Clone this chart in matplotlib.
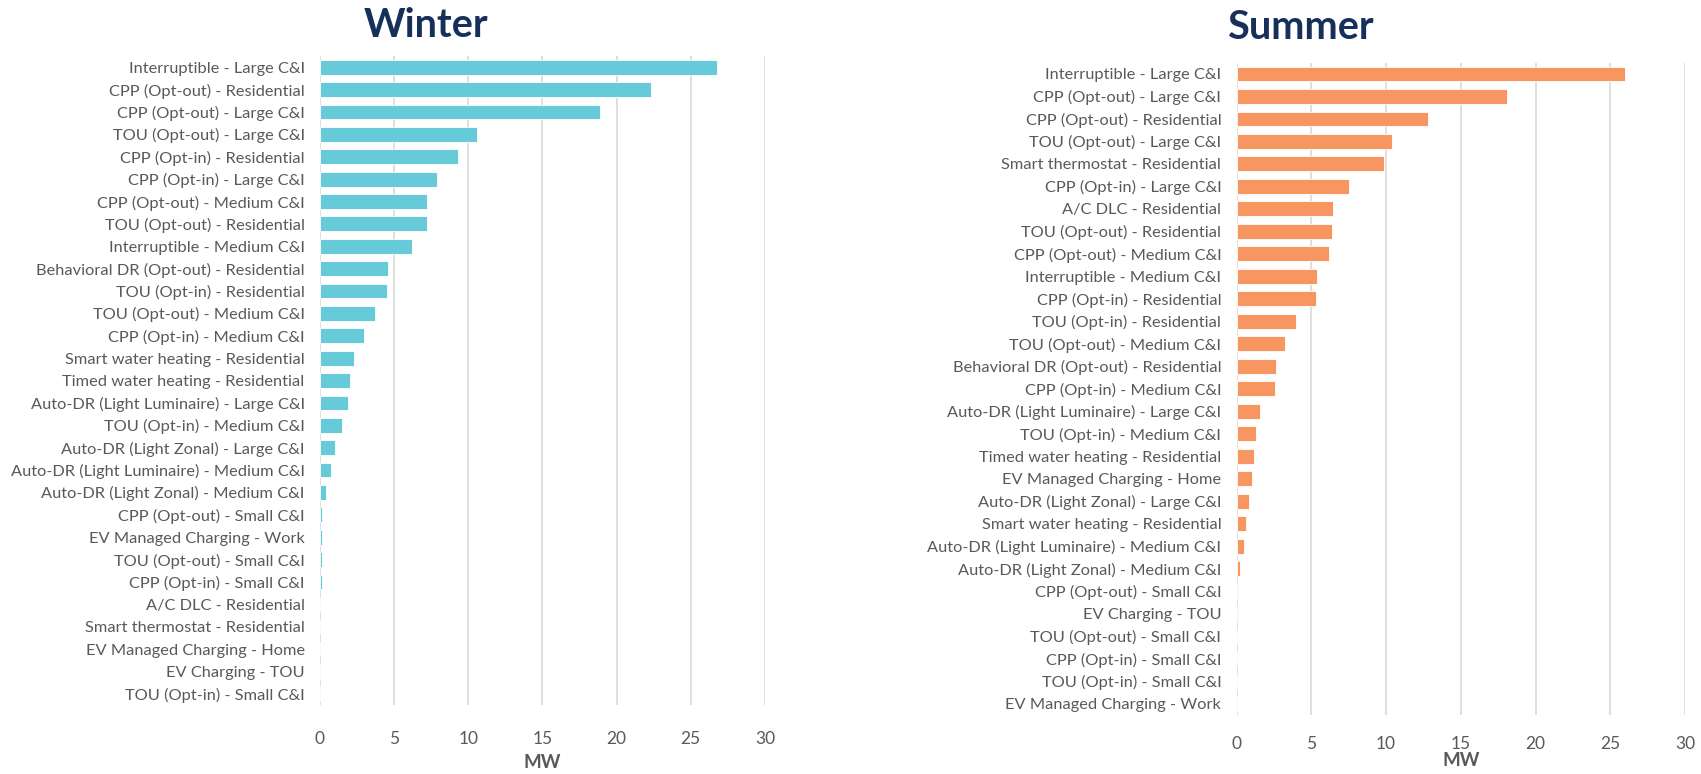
import matplotlib
matplotlib.use('Agg')
import matplotlib.pyplot as plt

# Winter - MW by program, top to bottom
winter_labels = [
    'Interruptible - Large C&I', 'CPP (Opt-out) - Residential', 'CPP (Opt-out) - Large C&I',
    'TOU (Opt-out) - Large C&I', 'CPP (Opt-in) - Residential', 'CPP (Opt-in) - Large C&I',
    'CPP (Opt-out) - Medium C&I', 'TOU (Opt-out) - Residential', 'Interruptible - Medium C&I',
    'Behavioral DR (Opt-out) - Residential', 'TOU (Opt-in) - Residential', 'TOU (Opt-out) - Medium C&I',
    'CPP (Opt-in) - Medium C&I', 'Smart water heating - Residential', 'Timed water heating - Residential',
    'Auto-DR (Light Luminaire) - Large C&I', 'TOU (Opt-in) - Medium C&I', 'Auto-DR (Light Zonal) - Large C&I',
    'Auto-DR (Light Luminaire) - Medium C&I', 'Auto-DR (Light Zonal) - Medium C&I', 'CPP (Opt-out) - Small C&I',
    'EV Managed Charging - Work', 'TOU (Opt-out) - Small C&I', 'CPP (Opt-in) - Small C&I',
    'A/C DLC - Residential', 'Smart thermostat - Residential', 'EV Managed Charging - Home',
    'EV Charging - TOU', 'TOU (Opt-in) - Small C&I']
winter_mw = [26.8, 22.3, 18.9, 10.6, 9.3, 7.9, 7.2, 7.2, 6.2, 4.6, 4.5, 3.7, 3.0, 2.3, 2.05,
             1.9, 1.5, 1.0, 0.76, 0.43, 0.17, 0.17, 0.11, 0.11, 0, 0, 0, 0, 0]

# Summer
summer_labels = [
    'Interruptible - Large C&I', 'CPP (Opt-out) - Large C&I', 'CPP (Opt-out) - Residential',
    'TOU (Opt-out) - Large C&I', 'Smart thermostat - Residential', 'CPP (Opt-in) - Large C&I',
    'A/C DLC - Residential', 'TOU (Opt-out) - Residential', 'CPP (Opt-out) - Medium C&I',
    'Interruptible - Medium C&I', 'CPP (Opt-in) - Residential', 'TOU (Opt-in) - Residential',
    'TOU (Opt-out) - Medium C&I', 'Behavioral DR (Opt-out) - Residential', 'CPP (Opt-in) - Medium C&I',
    'Auto-DR (Light Luminaire) - Large C&I', 'TOU (Opt-in) - Medium C&I', 'Timed water heating - Residential',
    'EV Managed Charging - Home', 'Auto-DR (Light Zonal) - Large C&I', 'Smart water heating - Residential',
    'Auto-DR (Light Luminaire) - Medium C&I', 'Auto-DR (Light Zonal) - Medium C&I', 'CPP (Opt-out) - Small C&I',
    'EV Charging - TOU', 'TOU (Opt-out) - Small C&I', 'CPP (Opt-in) - Small C&I',
    'TOU (Opt-in) - Small C&I', 'EV Managed Charging - Work']
summer_mw = [26.0, 18.07, 12.8, 10.37, 9.86, 7.5, 6.47, 6.4, 6.2, 5.35, 5.3, 4.0, 3.23, 2.65, 2.58,
             1.56, 1.32, 1.18, 1.05, 0.8, 0.6, 0.49, 0.22, 0.09, 0.09, 0, 0, 0, 0]

xticks = [0, 5, 10, 15, 20, 25, 30]

plt.rcParams['font.family'] = ['Lato', 'DejaVu Sans']
grey = '#595959'

fig = plt.figure(figsize=(17.01, 7.74), dpi=100)


def panel(rect, labels, vals, color, title, title_xy, tpad, lpad):
    ax = fig.add_axes(rect)
    ypos = range(len(labels))
    ax.barh(ypos, vals, height=0.66, color=color, edgecolor='white', linewidth=0.6, zorder=3)
    ax.set_ylim(len(labels) - 0.5, -0.5)
    ax.set_xlim(0, 30)
    ax.set_yticks(list(ypos))
    ax.set_yticklabels(labels, fontsize=11.8, color=grey)
    ax.set_xticks(xticks)
    ax.set_xticklabels([str(t) for t in xticks], fontsize=12.5, color=grey)
    ax.tick_params(length=0, axis='y', pad=11)
    ax.tick_params(length=0, axis='x', pad=tpad)
    for s in ax.spines.values():
        s.set_visible(False)
    ax.grid(axis='x', color='#d9d9d9', linewidth=1.2, zorder=0)
    ax.set_xlabel('MW', fontsize=13.5, fontweight='bold', color=grey, labelpad=lpad)
    fig.text(title_xy[0], title_xy[1], title, fontsize=28.5, fontweight='bold',
             color='#17305a', ha='center', va='center')
    return ax


panel([0.1881, 0.0891, 0.2616, 0.8385], winter_labels, winter_mw, '#67cad9',
      'Winter', (0.2505, 0.967), 19, 5)
panel([0.7270, 0.0762, 0.2636, 0.8428], summer_labels, summer_mw, '#f79661',
      'Summer', (0.7643, 0.965), 15, 0)

fig.savefig('out.png', dpi=100)
